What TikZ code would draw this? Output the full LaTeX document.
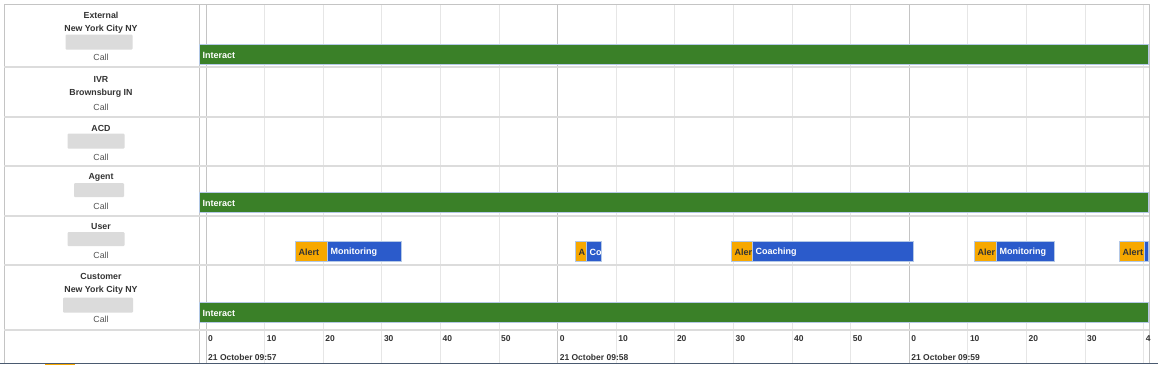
\documentclass[tikz,border=0pt]{standalone}
\usepackage{fontspec}
\setmainfont{Liberation Sans}
\definecolor{gbar}{HTML}{3A8028}
\definecolor{obar}{HTML}{F7A800}
\definecolor{bbar}{HTML}{2B5BCB}
\definecolor{barb}{HTML}{B4C8E6}
\definecolor{txt}{HTML}{333333}
\definecolor{callc}{HTML}{555555}
\definecolor{minorc}{HTML}{E6E6E6}
\definecolor{majorc}{HTML}{C4C4C4}
\definecolor{sepc}{HTML}{DCDCDC}
\definecolor{slate}{HTML}{4A5A70}
\tikzset{
  lbl/.style={font=\bfseries\fontsize{8.8}{10}\selectfont, text=txt, inner sep=0},
  callt/.style={font=\fontsize{8.8}{10}\selectfont, text=callc, inner sep=0},
  blurbox/.style={fill=black!14, draw=none, inner sep=0, rounded corners=1},
  bar/.style={draw=barb, line width=0.6pt, inner sep=0, minimum height=20pt, anchor=north west},
  bartxt/.style={font=\bfseries\fontsize{9}{10}\selectfont, inner sep=0, anchor=west},
  tick/.style={font=\bfseries\fontsize{8.5}{10}\selectfont, text=txt, inner sep=0, anchor=west},
  minorline/.style={draw=minorc, line width=0.8pt},
  majorline/.style={draw=majorc, line width=1pt},
  sepline/.style={draw=sepc, line width=1.8pt},
}
\newcommand{\tlbar}[7]{%
  \node[bar, fill=#5, minimum width={#3-#2}] (#1) at (#2,#4) {};
  \node[bartxt, text=#6] (#1t) at ([xshift=3.5pt,yshift=-0.8pt]#1.west) {#7};
}
\begin{document}
\begin{tikzpicture}[x=1pt,y=-1pt]
\useasboundingbox (0,0) rectangle (1158,373);
\fill[white] (0,0) rectangle (1158,373);
% grid lines
\foreach \k in {1,2,3,4,5,7,8,9,10,11,13,14,15,16}
  \draw[minorline] ({206+58.6*\k},4) -- ({206+58.6*\k},363);
\foreach \k in {0,6,12}
  \draw[majorline] ({206+58.6*\k},4) -- ({206+58.6*\k},363);
% frame
\draw[majorline] (4,4) -- (1149,4);
\draw[majorline] (4,4) -- (4,363);
\draw[majorline] (199,4) -- (199,363);
\draw[majorline] (1149,4) -- (1149,363);
% row separators
\foreach \y in {67,117,166,216,265,330}
  \draw[sepline] (4,\y) -- (1149,\y);
% label column
\node[lbl] (extA) at (101,15) {External};
\node[lbl] (extB) at (101,29) {New York City NY};
\node[blurbox, minimum width=67pt, minimum height=15pt] (extC) at (99,42) {};
\node[callt] (extD) at (101,57) {Call};
\node[lbl] (ivrA) at (101,79) {IVR};
\node[lbl] (ivrB) at (101,93) {Brownsburg IN};
\node[callt] (ivrD) at (101,107) {Call};
\node[lbl] (acdA) at (101,128) {ACD};
\node[blurbox, minimum width=57pt, minimum height=15pt] (acdC) at (96,141) {};
\node[callt] (acdD) at (101,157) {Call};
\node[lbl] (agtA) at (101,177) {Agent};
\node[blurbox, minimum width=50pt, minimum height=14pt] (agtC) at (99,190) {};
\node[callt] (agtD) at (101,206) {Call};
\node[lbl] (usrA) at (101,227) {User};
\node[blurbox, minimum width=57pt, minimum height=14pt] (usrC) at (96,239) {};
\node[callt] (usrD) at (101,255) {Call};
\node[lbl] (cusA) at (101,276) {Customer};
\node[lbl] (cusB) at (101,290) {New York City NY};
\node[blurbox, minimum width=70pt, minimum height=15pt] (cusC) at (98,305) {};
\node[callt] (cusD) at (101,319) {Call};
% bars
\tlbar{b1}{199}{1148}{44}{gbar}{white}{Interact}
\tlbar{b2}{199}{1148}{192}{gbar}{white}{Interact}
\tlbar{b3}{199}{1148}{302}{gbar}{white}{Interact}
\tlbar{u1}{295}{327}{241}{obar}{txt}{Alert}
\tlbar{u2}{327}{401}{241}{bbar}{white}{Monitoring}
\tlbar{u3}{575}{586}{241}{obar}{txt}{A}
\tlbar{u4}{586}{601}{241}{bbar}{white}{Co}
\tlbar{u5}{731}{752}{241}{obar}{txt}{Aler}
\tlbar{u6}{752}{913}{241}{bbar}{white}{Coaching}
\tlbar{u7}{974}{996}{241}{obar}{txt}{Aler}
\tlbar{u8}{996}{1054}{241}{bbar}{white}{Monitoring}
\tlbar{u9}{1119}{1144}{241}{obar}{txt}{Alert}
\node[bar, fill=bbar, minimum width=4pt] (u10) at (1144,241) {};
% axis labels
\foreach \k/\t in {0/0,1/10,2/20,3/30,4/40,5/50,6/0,7/10,8/20,9/30,10/40,11/50,12/0,13/10,14/20,15/30,16/4}
  \node[tick] (tk\k) at ({206+58.6*\k+2},339) {\t};
\node[tick] (d1) at (208,357) {21 October 09:57};
\node[tick] (d2) at ({206+58.6*6+2},357) {21 October 09:58};
\node[tick] (d3) at ({206+58.6*12+2},357) {21 October 09:59};
% bottom line
\draw[slate, line width=1.5pt] (0,363.5) -- (1158,363.5);
\draw[obar, line width=1.5pt] (45,364.5) -- (75,364.5);
\end{tikzpicture}
\end{document}
